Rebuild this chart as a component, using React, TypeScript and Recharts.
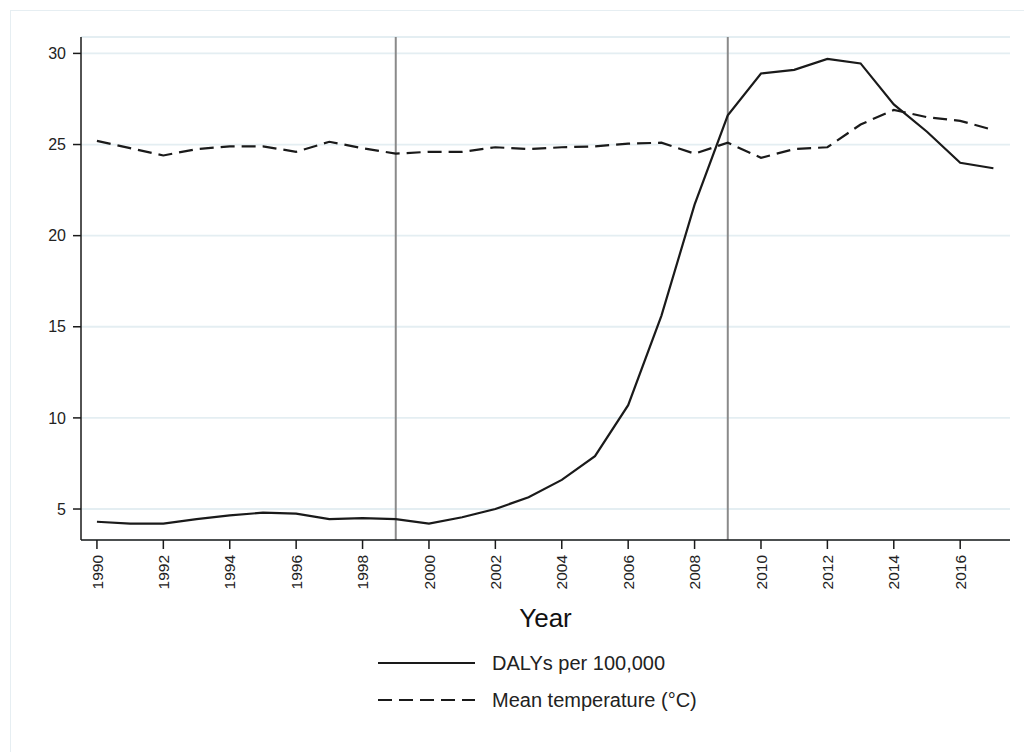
import React from 'react';
import {
  LineChart, Line, XAxis, YAxis, CartesianGrid, ReferenceLine, Legend,
} from 'recharts';

// ─── data ─────────────────────────────────────────────────────────────────────

const YEARS = [
  1990, 1991, 1992, 1993, 1994, 1995, 1996, 1997, 1998, 1999,
  2000, 2001, 2002, 2003, 2004, 2005, 2006, 2007, 2008, 2009,
  2010, 2011, 2012, 2013, 2014, 2015, 2016, 2017,
];

const DALYS = [
  4.3, 4.2, 4.2, 4.45, 4.65, 4.8, 4.75, 4.45, 4.5, 4.45,
  4.2, 4.55, 5.0, 5.65, 6.6, 7.9, 10.7, 15.6, 21.7, 26.6,
  28.9, 29.1, 29.7, 29.45, 27.2, 25.7, 24.0, 23.7,
];

const TEMPERATURE = [
  25.2, 24.8, 24.4, 24.75, 24.9, 24.9, 24.6, 25.15, 24.8, 24.5,
  24.6, 24.6, 24.85, 24.75, 24.85, 24.9, 25.05, 25.1, 24.5, 25.1,
  24.27, 24.75, 24.85, 26.1, 26.9, 26.5, 26.3, 25.8,
];

const X_TICKS = [1990, 1992, 1994, 1996, 1998, 2000, 2002, 2004, 2006, 2008, 2010, 2012, 2014, 2016];
const Y_TICKS = [5, 10, 15, 20, 25, 30];
const PERIOD_MARKS = [1999, 2009];

const SERIES_LABELS = ['DALYs per 100,000', 'Mean temperature (°C)'];

// ─── styles ───────────────────────────────────────────────────────────────────

const FONT = '"Liberation Sans", Arial, sans-serif';
const INK = '#1a1a1a';
const DASH = '14 7';

const rows = YEARS.map((year, i) => ({ year, dalys: DALYS[i], temp: TEMPERATURE[i] }));

function YearTick({ x, y, payload }: any) {
  return (
    <g transform={`translate(${x},${y})`}>
      <text
        transform="rotate(-90)"
        textAnchor="end"
        dy="0.36em"
        fontSize={15.5}
        fontFamily={FONT}
        fill="#222"
      >
        {payload.value}
      </text>
    </g>
  );
}

function LegendBox() {
  return (
    <svg width={380} height={75} style={{ display: 'block' }}>
      {SERIES_LABELS.map((label, i) => (
        <g key={label} transform={`translate(0, ${18 + i * 37})`}>
          <line
            x1={8} x2={105} y1={0} y2={0}
            stroke={INK} strokeWidth={2}
            strokeDasharray={i === 1 ? DASH : undefined}
          />
          <text x={122} y={0} dy="0.35em" fontSize={20} fontFamily={FONT} fill="#222">
            {label}
          </text>
        </g>
      ))}
    </svg>
  );
}

export default function App() {
  return (
    <div style={{ position: 'absolute', left: 0, top: 0, width: 1024, height: 752, background: '#fff' }}>
      <div style={{
        position: 'absolute', left: 10, top: 10, right: 0, bottom: 0,
        borderTop: '1.5px solid #e6eef2', borderLeft: '1.5px solid #e6eef2',
      }} />
      <LineChart
        width={1024}
        height={752}
        data={rows}
        margin={{ top: 37, right: 14, left: 0, bottom: 0 }}
        style={{ position: 'absolute', left: 0, top: 0 }}
      >
        <CartesianGrid vertical={false} stroke="#e4eef2" strokeWidth={1.8} />
        <XAxis
          dataKey="year"
          type="number"
          domain={[1989.52, 2017.5]}
          ticks={X_TICKS}
          interval={0}
          tick={<YearTick />}
          tickSize={9}
          tickMargin={6}
          height={212}
          stroke={INK}
          strokeWidth={1.5}
          tickLine={{ stroke: INK, strokeWidth: 1.5 }}
          label={{ value: 'Year', position: 'insideTop', offset: 69, fontSize: 26, fontFamily: FONT, fill: '#111' }}
        />
        <YAxis
          type="number"
          domain={[3.3, 30.9]}
          ticks={Y_TICKS}
          width={81}
          tickSize={8}
          tickMargin={7}
          stroke={INK}
          strokeWidth={1.5}
          tickLine={{ stroke: INK, strokeWidth: 1.5 }}
          tick={{ fontSize: 16, fontFamily: FONT, fill: '#222' }}
        />
        {PERIOD_MARKS.map((yr) => (
          <ReferenceLine key={yr} x={yr} stroke="#8a8a8a" strokeWidth={2} />
        ))}
        <Line
          dataKey="dalys"
          name={SERIES_LABELS[0]}
          type="linear"
          stroke={INK}
          strokeWidth={2.2}
          dot={false}
          isAnimationActive={false}
        />
        <Line
          dataKey="temp"
          name={SERIES_LABELS[1]}
          type="linear"
          stroke={INK}
          strokeWidth={2.2}
          strokeDasharray={DASH}
          dot={false}
          isAnimationActive={false}
        />
        <Legend
          layout="horizontal"
          verticalAlign="middle"
          align="center"
          wrapperStyle={{ top: 645, left: 370, width: 380 }}
          content={() => <LegendBox />}
        />
      </LineChart>
    </div>
  );
}
